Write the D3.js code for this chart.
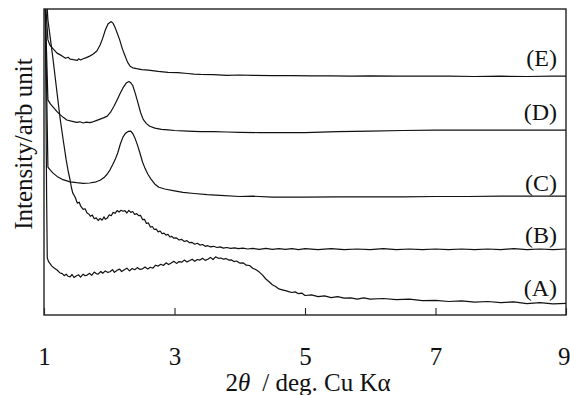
<!DOCTYPE html>
<html>
<head>
<meta charset="utf-8">
<script src="https://cdn.jsdelivr.net/npm/d3@7"></script>
<style>
  body { margin: 0; background: #fff; }
  text { font-family: "Liberation Serif", "Times New Roman", serif; fill: #111; }
</style>
</head>
<body>
<div id="chart"></div>
<script>
// XRD patterns, 2theta (deg) vs intensity (arb. units, offset per sample)
const xTicks = [1, 3, 5, 7, 9];
const labels = ["(A)", "(B)", "(C)", "(D)", "(E)"];
const labelY = [6.5, 24, 41.3, 65, 83]; // intensity level where each tag sits

const curveA = [[1.00,130],[1.02,102],[1.04,40],[1.05,19],[1.07,17.8],[1.09,17.2],[1.12,16.3],[1.16,15.6],[1.20,15],[1.24,14.1],[1.28,13.8],[1.31,13.1],[1.34,13.6],[1.37,12.9],[1.40,12.7],[1.43,13.5],[1.46,12.5],[1.50,13.1],[1.53,13.4],[1.56,12.6],[1.60,13.6],[1.63,13.1],[1.66,13.3],[1.70,13.9],[1.73,13.2],[1.77,14.3],[1.80,13.8],[1.83,13.6],[1.87,14.5],[1.90,13.9],[1.94,14.7],[1.98,14.2],[2.01,14.4],[2.05,15.1],[2.08,14.2],[2.12,14.9],[2.16,15.3],[2.19,14.5],[2.23,15.1],[2.27,15.6],[2.31,14.7],[2.35,15.5],[2.39,15.1],[2.43,15.8],[2.47,15.2],[2.51,15.4],[2.55,16],[2.59,15.3],[2.63,15.9],[2.67,15.6],[2.71,16.6],[2.75,16.3],[2.79,16.9],[2.83,16.5],[2.87,17.4],[2.91,16.8],[2.95,17.3],[2.99,17.9],[3.03,17.2],[3.07,17.8],[3.11,17.6],[3.15,18.3],[3.19,17.7],[3.23,18.1],[3.27,18.6],[3.31,17.9],[3.35,18.5],[3.39,18.3],[3.43,18.9],[3.47,18.2],[3.51,18.6],[3.55,19.2],[3.59,18.5],[3.63,19.4],[3.67,18.9],[3.71,19],[3.75,18.6],[3.79,18.8],[3.83,18.3],[3.87,18.4],[3.91,17.8],[3.95,18],[4.00,17.3],[4.05,17.4],[4.10,16.6],[4.15,16.5],[4.20,15.6],[4.25,15.1],[4.30,14.3],[4.35,13.3],[4.40,12],[4.45,11.1],[4.50,10.1],[4.55,9.5],[4.60,8.7],[4.65,8.4],[4.70,8.1],[4.75,7.8],[4.80,7.5],[4.85,7.7],[4.90,7.1],[4.95,7.3],[5.00,6.5],[5.10,6.7],[5.20,6.1],[5.30,6.4],[5.40,5.8],[5.50,6.1],[5.60,5.6],[5.70,5.7],[5.80,5.3],[5.90,5.7],[6.00,5.3],[6.2,5.5],[6.4,5.1],[6.6,5.3],[6.8,4.8],[7.0,4.9],[7.2,4.5],[7.4,4.7],[7.6,4.3],[7.8,4.5],[8.0,4.1],[8.2,4.4],[8.4,3.8],[8.6,4.1],[8.8,3.7],[9.0,3.9]];

const curveB = [[1.00,130],[1.05,102],[1.06,98.3],[1.10,91.7],[1.14,85],[1.20,74],[1.25,65],[1.30,57.5],[1.34,51.7],[1.37,48],[1.40,45],[1.42,42.5],[1.44,40.7],[1.47,39.6],[1.49,38.6],[1.51,37.3],[1.54,37.6],[1.56,36.4],[1.60,35.2],[1.63,35.4],[1.66,34],[1.69,33.6],[1.71,32.9],[1.74,33.3],[1.77,32.1],[1.80,32.4],[1.83,31.5],[1.86,32.2],[1.89,31.6],[1.92,32.7],[1.94,31.9],[1.97,32.3],[2.00,33.4],[2.03,33.1],[2.06,34.2],[2.09,33.9],[2.12,34.8],[2.15,34.3],[2.18,34.9],[2.21,34.6],[2.24,34.8],[2.27,34],[2.30,34.9],[2.33,34.2],[2.36,34.5],[2.39,33.5],[2.42,33.8],[2.45,33.1],[2.48,33.2],[2.51,31.8],[2.54,31.9],[2.57,30.5],[2.60,30.7],[2.63,29.3],[2.66,29.5],[2.69,28.5],[2.72,28.6],[2.75,27.7],[2.78,28],[2.81,27.1],[2.84,27.3],[2.87,26.6],[2.90,26.9],[2.93,26],[2.96,26.2],[2.99,25.6],[3.03,25.7],[3.07,25],[3.11,25.2],[3.15,24.5],[3.19,24.8],[3.23,24.1],[3.27,24.2],[3.31,23.6],[3.35,23.9],[3.39,23.3],[3.43,23.5],[3.47,22.9],[3.51,23.1],[3.55,22.7],[3.60,22.9],[3.65,22.5],[3.70,22.7],[3.75,22.3],[3.80,22.5],[3.86,22.2],[3.92,22.4],[3.98,22.1],[4.05,22.3],[4.12,22],[4.2,22.2],[4.3,21.9],[4.4,22.2],[4.5,21.9],[4.6,22.1],[4.7,21.9],[4.8,22.1],[4.9,21.8],[5.0,22.1],[5.2,21.8],[5.4,22.1],[5.6,21.8],[5.8,22],[6.0,21.8],[6.2,22.1],[6.4,21.8],[6.6,22],[6.8,21.8],[7.0,22],[7.2,21.8],[7.4,22],[7.6,21.8],[7.8,22],[8.0,21.8],[8.2,22.1],[8.4,21.8],[8.6,22],[8.8,21.8],[9.0,22]];

const curveC = [[1.00,130],[1.02,102],[1.06,49.3],[1.10,48.2],[1.14,47.3],[1.20,46.2],[1.29,45.1],[1.40,44.4],[1.50,44.1],[1.60,43.9],[1.70,44],[1.80,44.4],[1.86,44.9],[1.92,45.8],[1.97,47],[2.01,48.3],[2.05,50],[2.09,51.8],[2.13,54],[2.17,57],[2.21,59.3],[2.25,60.6],[2.29,61.2],[2.33,61.3],[2.36,60.5],[2.39,59.2],[2.43,56.8],[2.47,54],[2.51,51],[2.55,48.8],[2.59,47],[2.64,45.3],[2.70,43.6],[2.76,42.6],[2.85,42],[3.0,41.4],[3.13,40.9],[3.3,40.5],[3.5,40.1],[3.7,39.9],[4.0,39.5],[4.2,39.6],[4.5,39.3],[5.0,39.3],[5.5,39.4],[6.0,39.4],[6.5,39.4],[7.0,39.5],[7.5,39.5],[8.0,39.6],[8.5,39.6],[9.0,39.6]];

const curveD = [[1.00,130],[1.02,102],[1.06,71.7],[1.10,70.3],[1.14,69.3],[1.20,67.8],[1.25,66.7],[1.30,65.8],[1.35,65],[1.42,64.6],[1.50,64.2],[1.55,64.4],[1.60,64],[1.65,64.3],[1.70,64.1],[1.75,64.4],[1.80,64.8],[1.86,65.3],[1.92,65.8],[1.97,66.3],[2.02,67.6],[2.07,69.5],[2.12,71.7],[2.17,74],[2.21,75.7],[2.26,77.3],[2.30,77.8],[2.33,77.4],[2.36,76.5],[2.40,73.8],[2.44,70.7],[2.48,67.5],[2.52,65.2],[2.57,63.8],[2.62,62.9],[2.70,62.3],[2.80,61.9],[2.90,61.7],[3.0,61.5],[3.2,61.3],[3.4,61.1],[3.6,61.1],[3.8,61.0],[4.0,60.9],[4.3,60.8],[4.6,60.8],[5.0,60.8],[5.5,61.1],[6.0,61.3],[6.5,61.5],[7.0,61.6],[7.5,61.6],[8.0,61.6],[8.5,61.6],[9.0,61.6]];

const curveE = [[1.00,130],[1.03,102],[1.06,91.7],[1.09,90],[1.14,88.7],[1.20,87.3],[1.25,86.7],[1.29,86.2],[1.33,85.6],[1.37,85.9],[1.40,85.3],[1.45,85.1],[1.51,84.9],[1.53,85.4],[1.56,85.0],[1.60,85.4],[1.65,85.8],[1.70,86.3],[1.75,86.9],[1.81,88],[1.86,90],[1.90,92.3],[1.94,95],[1.98,97],[2.03,97.8],[2.06,97.2],[2.09,95.8],[2.13,93.5],[2.16,91.7],[2.20,88.8],[2.24,86.5],[2.28,84.3],[2.32,82.9],[2.36,82.4],[2.42,82.1],[2.50,81.8],[2.60,81.6],[2.75,81.2],[2.90,80.9],[3.05,80.8],[3.2,80.5],[3.3,80.3],[3.4,80.2],[3.6,80.1],[3.8,79.9],[4.0,80],[4.2,79.9],[4.5,79.8],[4.8,79.8],[5.1,79.7],[5.4,79.7],[5.7,79.6],[6.0,79.7],[6.4,79.6],[6.8,79.6],[7.2,79.6],[7.6,79.5],[8.0,79.6],[8.4,79.5],[8.8,79.6],[9.0,79.6]];

const curves = [curveA, curveB, curveC, curveD, curveE];

const width = 570;
const height = 395;
const margin = { top: 9, right: 4, bottom: 80, left: 44 };

const svg = d3.select("#chart")
  .append("svg")
  .attr("width", width)
  .attr("height", height);

const x = d3.scaleLinear().domain([1, 9]).range([margin.left, width - margin.right]);
const y = d3.scaleLinear().domain([0, 102]).range([height - margin.bottom, margin.top]);

svg.append("clipPath").attr("id", "plot-clip")
  .append("rect")
  .attr("x", margin.left).attr("y", margin.top)
  .attr("width", x(9) - x(1)).attr("height", y(0) - y(102));

const line = d3.line().x((d) => x(d[0])).y((d) => y(d[1]));

// Curves
svg.append("g")
  .attr("clip-path", "url(#plot-clip)")
  .selectAll("path")
  .data(curves)
  .enter().append("path")
  .attr("d", line)
  .attr("fill", "none")
  .attr("stroke", "#111")
  .attr("stroke-width", 1.2)
  .attr("stroke-linejoin", "round");

// Frame
svg.append("rect")
  .attr("x", x(1)).attr("y", y(102))
  .attr("width", x(9) - x(1)).attr("height", y(0) - y(102))
  .attr("fill", "none")
  .attr("stroke", "#222")
  .attr("stroke-width", 1.4);

// Bottom axis: inward ticks, labels set well below
const xAxis = d3.axisBottom(x).tickValues(xTicks).tickSize(-7).tickPadding(32).tickFormat(d3.format("d"));
const gx = svg.append("g")
  .attr("transform", `translate(0,${y(0)})`)
  .call(xAxis);
gx.select(".domain").remove();
gx.selectAll(".tick line").attr("stroke", "#222").attr("stroke-width", 1.1);
gx.selectAll(".tick text")
  .attr("font-size", 25)
  .attr("fill", "#111");
// keep the last label inside the page
gx.selectAll(".tick text").filter((d) => d === 9)
  .attr("text-anchor", "end")
  .attr("dx", 4);

// Sample tags
svg.append("g")
  .selectAll("text")
  .data(labels)
  .enter().append("text")
  .attr("x", 557)
  .attr("y", (d, i) => y(labelY[i]))
  .attr("text-anchor", "end")
  .attr("font-size", 24)
  .text((d) => d);

// Axis titles
const xt = svg.append("text")
  .attr("x", 308)
  .attr("y", 391)
  .attr("text-anchor", "middle")
  .attr("font-size", 25);
xt.append("tspan").text("2");
xt.append("tspan").attr("font-style", "italic").text("θ");
xt.append("tspan").attr("dx", 12).text("/ deg. Cu K");
xt.append("tspan").text("α");

svg.append("text")
  .attr("transform", "translate(32,144) rotate(-90)")
  .attr("text-anchor", "middle")
  .attr("font-size", 25)
  .text("Intensity/arb unit");
</script>
</body>
</html>
